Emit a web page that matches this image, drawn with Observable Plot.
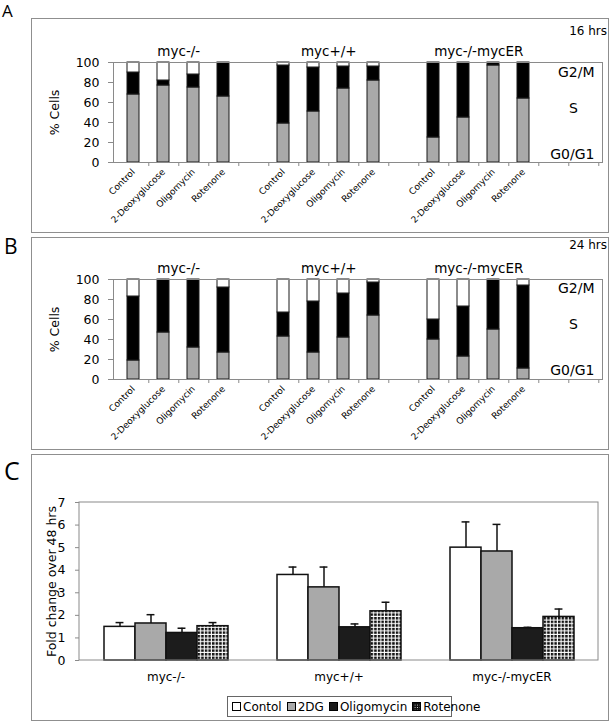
<!DOCTYPE html>
<html>
<head>
<meta charset="utf-8">
<script src="https://cdn.jsdelivr.net/npm/d3@7"></script>
<script src="https://cdn.jsdelivr.net/npm/@observablehq/plot@0.6"></script>
<style>
  html, body { margin: 0; padding: 0; background: #fff; }
  #page { position: relative; width: 613px; height: 722px; font-family: "DejaVu Sans", Verdana, sans-serif; color: #000; }
  .box { position: absolute; box-sizing: border-box; border: 1px solid #8f8f8f; }
  .letter { position: absolute; font-family: "Open Sans", "DejaVu Sans", sans-serif; line-height: 1; }
  .hrs { position: absolute; font-size: 12px; text-align: right; }
  .chart { position: absolute; }
  #legend { position: absolute; left: 227px; top: 696px; width: 225px; height: 21px; box-sizing: border-box;
            border: 1px solid #666; font-size: 12px; display: flex; align-items: center; padding-left: 4px; gap: 5px; white-space: nowrap; }
  .sw { display: inline-block; width: 7px; height: 7px; border: 1px solid #000; margin-right: 2px; vertical-align: -0.5px; }
</style>
</head>
<body>
<div id="page">
  <div class="box" style="left:31px; top:18px; width:578px; height:215px;"></div>
  <div class="box" style="left:31px; top:237px; width:578px; height:213px;"></div>
  <div class="box" style="left:31px; top:454px; width:578px; height:267px;"></div>
  <div class="letter" style="left:2px; top:2px; font-size:17px;">A</div>
  <div class="letter" style="left:4px; top:236px; font-size:21px;">B</div>
  <div class="letter" style="left:4px; top:458px; font-size:25px;">C</div>
  <div class="hrs" style="right:6px; top:24px;">16 hrs</div>
  <div class="hrs" style="right:6px; top:238px;">24 hrs</div>
  <div class="chart" id="chartA" style="left:32px; top:19px;"></div>
  <div class="chart" id="chartB" style="left:32px; top:238px;"></div>
  <div class="chart" id="chartC" style="left:32px; top:455px;"></div>
  <div id="legend"></div>
</div>
<script>
// ---------- data ----------
const cellLines = ["myc-/-", "myc+/+", "myc-/-mycER"];
const treatments = ["Control", "2-Deoxyglucose", "Oligomycin", "Rotenone"];
const phases = ["G0/G1", "S", "G2/M"];
const yTicks = [0, 20, 40, 60, 80, 100];

// 16 hrs (% cells), order: myc-/- x4, myc+/+ x4, myc-/-mycER x4
const g1_16 = [68, 77, 75, 66, 39, 51, 74, 82, 25, 45, 97, 64];
const s_16  = [22, 5, 13, 34, 58, 44, 22, 14, 75, 55, 3, 36];
const g2_16 = [10, 18, 12, 0, 3, 5, 4, 4, 0, 0, 0, 0];
// 24 hrs
const g1_24 = [19, 47, 32, 27, 43, 27, 42, 64, 40, 23, 50, 11];
const s_24  = [64, 53, 68, 65, 24, 51, 44, 33, 20, 50, 50, 83];
const g2_24 = [17, 0, 0, 8, 33, 22, 14, 3, 40, 27, 0, 6];

// Panel C: fold change over 48 hrs (per cell line) and upper error
const seriesC = ["Contol", "2DG", "Oligomycin", "Rotenone"];
const foldControl = [1.49, 3.79, 5.00];
const fold2DG     = [1.64, 3.24, 4.83];
const foldOligo   = [1.22, 1.47, 1.43];
const foldRot     = [1.52, 2.18, 1.93];
const errControl  = [0.19, 0.35, 1.14];
const err2DG      = [0.39, 0.90, 1.20];
const errOligo    = [0.21, 0.15, 0.04];
const errRot      = [0.16, 0.40, 0.35];
const yTicksC = [0, 1, 2, 3, 4, 5, 6, 7];

// ---------- helpers ----------
const slotDomain = [];
cellLines.forEach((cl, i) => {
  treatments.forEach(t => slotDomain.push(cl + "|" + t));
  slotDomain.push("gap" + i);
});
slotDomain.push("gap3");

function stackData(g1, s, g2) {
  const out = [];
  cellLines.forEach((cl, i) => treatments.forEach((t, j) => {
    const k = i * 4 + j;
    [[phases[0], g1[k]], [phases[1], s[k]], [phases[2], g2[k]]].forEach(([p, v]) => {
      if (v > 0) out.push({key: cl + "|" + t, phase: p, value: v});
    });
  }));
  return out;
}

function stripArrows(svg) {
  d3.select(svg).selectAll("text").each(function () {
    const t = d3.select(this);
    if (t.selectAll("tspan").size() === 0) {
      const s = t.text();
      if (s.includes("↑")) t.text(s.replace(/\s*↑\s*/g, ""));
    } else {
      t.selectAll("tspan").each(function () {
        const u = d3.select(this); const s = u.text();
        if (s.includes("↑")) u.text(s.replace(/\s*↑\s*/g, ""));
      });
    }
  });
  return svg;
}

const W = 575, ML = 81, MR = 5;
const step = (W - ML - MR) / slotDomain.length;

function cyclePanel(data, height, mt, mb, phaseY) {
  const groups = cellLines.map(cl => ({key: cl + "|2-Deoxyglucose", label: cl}));
  return stripArrows(Plot.plot({
    width: W, height,
    marginLeft: ML, marginRight: MR, marginTop: mt, marginBottom: mb,
    style: {fontFamily: "DejaVu Sans, sans-serif", fontSize: "12px", background: "transparent", overflow: "hidden"},
    x: {domain: slotDomain, paddingInner: 0.6, paddingOuter: 0.3, axis: null},
    y: {domain: [0, 100], axis: null},
    color: {domain: phases, range: ["#a9a9a9", "#000000", "#ffffff"]},
    marks: [
      Plot.barY(data, {x: "key", y: "value", fill: "phase", stroke: "#1a1a1a", strokeWidth: 1}),
      Plot.frame({stroke: "#8a8a8a"}),
      Plot.axisY({ticks: yTicks, tickSize: 5, tickPadding: 9, stroke: "#8a8a8a", fill: "#000", fontSize: 12.5,
                  label: "% Cells", labelArrow: "none", labelAnchor: "center", labelOffset: 63}),
      Plot.axisX({tickSize: 4, dx: step / 2, stroke: "#8a8a8a", tickFormat: () => "", label: null}),
      Plot.axisX({tickSize: 0, tickPadding: 8, tickRotate: -45, fontSize: 9, fill: "#000", label: null,
                  tickFormat: d => d.startsWith("gap") ? "" : d.split("|")[1]}),
      Plot.text(groups, {x: "key", text: "label", frameAnchor: "top", dx: step / 2, dy: -7, lineAnchor: "bottom", fontSize: 13.5}),
      Plot.text([{label: "G2/M", y: phaseY[0]}, {label: "G0/G1", y: phaseY[2]}],
                {y: "y", text: "label", frameAnchor: "right", textAnchor: "end", dx: -8, fontSize: 14, lineAnchor: "middle"}),
      Plot.text([{label: "S", y: phaseY[1]}],
                {y: "y", text: "label", frameAnchor: "right", textAnchor: "middle", dx: -29, fontSize: 14, lineAnchor: "middle"})
    ]
  }));
}

document.getElementById("chartA").append(cyclePanel(stackData(g1_16, s_16, g2_16), 212, 43, 69, [90, 54, 8]));
document.getElementById("chartB").append(cyclePanel(stackData(g1_24, s_24, g2_24), 210, 41, 69, [91, 55, 9]));

// ---------- Panel C ----------
const foldSeries = [foldControl, fold2DG, foldOligo, foldRot];
const errSeries = [errControl, err2DG, errOligo, errRot];
const cData = [];
cellLines.forEach((cl, i) => seriesC.forEach((s, j) => {
  cData.push({cell: cl, series: s, value: foldSeries[j][i], err: errSeries[j][i]});
}));

const WC = 575, HC = 237, mlC = 47, mrC = 9, mtC = 47, mbC = 32;
const facetW = (WC - mlC - mrC) / cellLines.length;
const padOuter = 0.78;
const barStep = facetW / (seriesC.length + 2 * padOuter);
const capInset = (barStep - 8) / 2;

const chartC = stripArrows(Plot.plot({
  width: WC, height: HC,
  marginLeft: mlC, marginRight: mrC, marginTop: mtC, marginBottom: mbC,
  style: {fontFamily: "DejaVu Sans, sans-serif", fontSize: "12px", background: "transparent"},
  fx: {domain: cellLines, padding: 0, axis: "bottom", label: null, tickSize: 0, tickPadding: 12},
  x: {domain: seriesC, paddingInner: 0, paddingOuter: padOuter, axis: null},
  y: {domain: [0, 7], axis: null},
  color: {domain: seriesC, range: ["#ffffff", "#a9a9a9", "#1c1c1c", "url(#rotGrid)"]},
  facet: {data: cData, x: "cell"},
  marks: [
    Plot.axisY({ticks: yTicksC, tickFormat: d3.format("d"), tickSize: 4, tickPadding: 10, stroke: "#8a8a8a", fill: "#000", fontSize: 12.5,
                label: "Fold change over 48 hrs", labelArrow: "none", labelAnchor: "center", labelOffset: 32}),
    Plot.barY(cData, {x: "series", y: "value", fill: "series", stroke: "#111", strokeWidth: 1.5}),
    Plot.ruleX(cData, {x: "series", y1: "value", y2: d => d.value + d.err, stroke: "#111", strokeWidth: 1.5}),
    Plot.tickY(cData, {x: "series", y: d => d.value + d.err, stroke: "#111", strokeWidth: 1.5, insetLeft: capInset, insetRight: capInset})
  ]
}));

// pattern for Rotenone + outer frame of the plot area
const svgC = d3.select(chartC.tagName.toLowerCase() === "svg" ? chartC : chartC.querySelector("svg"));
const defs = svgC.insert("defs", ":first-child");
const pat = defs.append("pattern").attr("id", "rotGrid").attr("patternUnits", "userSpaceOnUse")
  .attr("width", 3.6).attr("height", 3.6);
pat.append("rect").attr("width", 3.6).attr("height", 3.6).attr("fill", "#fff");
pat.append("rect").attr("x", 0).attr("y", 0).attr("width", 2.5).attr("height", 2.5).attr("fill", "#111");
svgC.append("rect").attr("x", mlC).attr("y", mtC).attr("width", WC - mlC - mrC).attr("height", HC - mtC - mbC)
  .attr("fill", "none").attr("stroke", "#8a8a8a");
document.getElementById("chartC").append(chartC);

// ---------- legend ----------
const legend = d3.select("#legend");
const swStyles = [
  "background:#fff",
  "background:#a9a9a9",
  "background:#1c1c1c",
  "background-color:#fff;background-image:linear-gradient(#111 60%, transparent 60%),linear-gradient(90deg,#111 60%, transparent 60%);background-size:2.5px 2.5px"
];
seriesC.forEach((s, i) => {
  const item = legend.append("span");
  item.append("span").attr("class", "sw").attr("style", swStyles[i]);
  item.append("span").text(s);
});
</script>
</body>
</html>
